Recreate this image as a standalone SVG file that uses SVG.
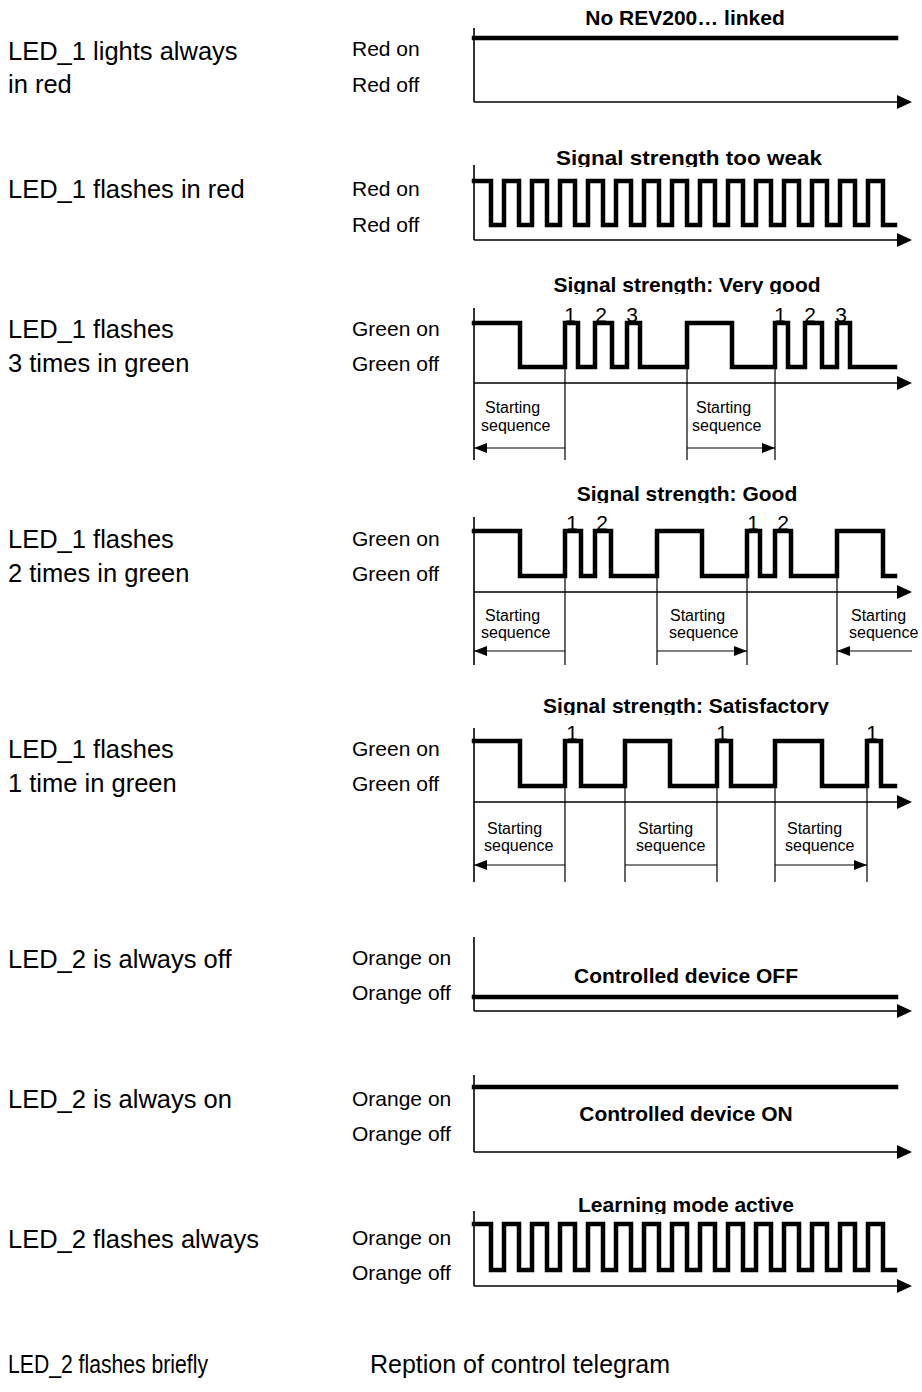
<svg xmlns="http://www.w3.org/2000/svg" width="922" height="1392" viewBox="0 0 922 1392">
<style>
text{font-family:"Liberation Sans",Arial,sans-serif;fill:#000}
.lbl{font-size:25.5px}
.st{font-size:21px}
.ttl{font-size:21px;font-weight:bold;text-anchor:middle}
.dg{font-size:21px;text-anchor:middle}
.ss{font-size:16px}
.wave{fill:none;stroke:#000;stroke-width:4.5;stroke-linejoin:miter;stroke-linecap:square}
.axis{fill:none;stroke:#000;stroke-width:1.6;marker-end:url(#ax)}
.vax{fill:none;stroke:#000;stroke-width:1.6}
.mk{fill:none;stroke:#000;stroke-width:1.2}
.da{fill:none;stroke:#000;stroke-width:1.2;marker-start:url(#ah);marker-end:url(#ah)}
.la{fill:none;stroke:#000;stroke-width:1.2;marker-start:url(#ah)}
</style>
<defs>
<marker id="ax" markerUnits="userSpaceOnUse" markerWidth="16" markerHeight="16" refX="0" refY="7" orient="auto"><path d="M0,0 L15,7 L0,14 Z" fill="#000"/></marker>
<marker id="ah" markerUnits="userSpaceOnUse" markerWidth="14" markerHeight="12" refX="13" refY="5" orient="auto-start-reverse"><path d="M0,0 L13,5 L0,10 Z" fill="#000"/></marker>
<clipPath id="c2"><rect x="400" y="130" width="522" height="37"/></clipPath>
<clipPath id="c3"><rect x="400" y="260" width="522" height="34"/></clipPath>
<clipPath id="c4"><rect x="400" y="470" width="522" height="33"/></clipPath>
<clipPath id="c5"><rect x="400" y="680" width="522" height="35"/></clipPath>
<clipPath id="c8"><rect x="400" y="1180" width="522" height="34"/></clipPath>
</defs>

<g id="row1">
<text class="lbl" x="8" y="60">LED_1 lights always</text>
<text class="lbl" x="8" y="93">in red</text>
<text class="st" x="352" y="56">Red on</text>
<text class="st" x="352" y="92">Red off</text>
<text class="ttl" x="685" y="25">No REV200… linked</text>
<path class="vax" d="M474,28 V102"/>
<path class="axis" d="M474,102 H897"/>
<path class="wave" d="M474,38 H896"/>
</g>

<g id="row2">
<text class="lbl" x="8" y="198">LED_1 flashes in red</text>
<text class="st" x="352" y="196">Red on</text>
<text class="st" x="352" y="232">Red off</text>
<text class="ttl" x="689" y="165" clip-path="url(#c2)" textLength="266" lengthAdjust="spacingAndGlyphs">Signal strength too weak</text>
<path class="vax" d="M474,165 V240"/>
<path class="axis" d="M474,240 H897"/>
<path class="wave" d="M474,181 H491 V225 H504 V181 H519 V225 H532 V181 H547 V225 H560 V181 H575 V225 H588 V181 H603 V225 H616 V181 H631 V225 H644 V181 H659 V225 H672 V181 H687 V225 H700 V181 H715 V225 H728 V181 H743 V225 H756 V181 H771 V225 H784 V181 H799 V225 H812 V181 H827 V225 H840 V181 H855 V225 H868 V181 H883 V225 H895"/>
</g>

<g id="row3">
<text class="lbl" x="8" y="338">LED_1 flashes</text>
<text class="lbl" x="8" y="372">3 times in green</text>
<text class="st" x="352" y="336">Green on</text>
<text class="st" x="352" y="371">Green off</text>
<text class="ttl" x="687" y="292" clip-path="url(#c3)">Signal strength: Very good</text>
<text class="dg" x="570" y="322">1</text>
<text class="dg" x="601" y="322">2</text>
<text class="dg" x="632" y="322">3</text>
<text class="dg" x="780" y="322">1</text>
<text class="dg" x="810" y="322">2</text>
<text class="dg" x="841" y="322">3</text>
<path class="vax" d="M474,308 V460"/>
<path class="axis" d="M474,383 H897"/>
<path class="wave" d="M474,323 H520 V367 H565 V323 H578 V367 H595 V323 H612 V367 H627 V323 H640 V367 H687 V323 H732 V367 H775 V323 H788 V367 H805 V323 H822 V367 H837 V323 H850 V367 H895"/>
<path class="mk" d="M565,367 V460 M687,367 V460 M775,367 V460"/>
<text class="ss" x="485" y="413">Starting</text>
<text class="ss" x="481" y="431">sequence</text>
<text class="ss" x="696" y="413">Starting</text>
<text class="ss" x="692" y="431">sequence</text>
<path class="da" d="M474,448 H565 M687,448 H775"/>
</g>

<g id="row4">
<text class="lbl" x="8" y="548">LED_1 flashes</text>
<text class="lbl" x="8" y="582">2 times in green</text>
<text class="st" x="352" y="546">Green on</text>
<text class="st" x="352" y="581">Green off</text>
<text class="ttl" x="687" y="501" clip-path="url(#c4)">Signal strength: Good</text>
<text class="dg" x="572" y="530">1</text>
<text class="dg" x="602" y="530">2</text>
<text class="dg" x="753" y="530">1</text>
<text class="dg" x="783" y="530">2</text>
<path class="vax" d="M474,517 V665"/>
<path class="axis" d="M474,592 H897"/>
<path class="wave" d="M474,531 H520 V576 H565 V531 H581 V576 H595 V531 H611 V576 H657 V531 H702 V576 H747 V531 H760 V576 H775 V531 H791 V576 H837 V531 H883 V576 H895"/>
<path class="mk" d="M565,576 V665 M657,576 V665 M747,576 V665 M837,576 V665"/>
<text class="ss" x="485" y="621">Starting</text>
<text class="ss" x="481" y="638">sequence</text>
<text class="ss" x="670" y="621">Starting</text>
<text class="ss" x="669" y="638">sequence</text>
<text class="ss" x="851" y="621">Starting</text>
<text class="ss" x="849" y="638">sequence</text>
<path class="da" d="M474,651 H565 M657,651 H747"/>
<path class="la" d="M837,651 H912"/>
</g>

<g id="row5">
<text class="lbl" x="8" y="758">LED_1 flashes</text>
<text class="lbl" x="8" y="792">1 time in green</text>
<text class="st" x="352" y="756">Green on</text>
<text class="st" x="352" y="791">Green off</text>
<text class="ttl" x="686" y="713" clip-path="url(#c5)">Signal strength: Satisfactory</text>
<text class="dg" x="572" y="740">1</text>
<text class="dg" x="722" y="740">1</text>
<text class="dg" x="872" y="740">1</text>
<path class="vax" d="M474,728 V882"/>
<path class="axis" d="M474,802 H897"/>
<path class="wave" d="M474,741 H520 V786 H565 V741 H581 V786 H625 V741 H670 V786 H717 V741 H731 V786 H775 V741 H822 V786 H867 V741 H881 V786 H895"/>
<path class="mk" d="M565,786 V882 M625,786 V882 M717,786 V882 M775,786 V882 M867,786 V882"/>
<text class="ss" x="487" y="834">Starting</text>
<text class="ss" x="484" y="851">sequence</text>
<text class="ss" x="638" y="834">Starting</text>
<text class="ss" x="636" y="851">sequence</text>
<text class="ss" x="787" y="834">Starting</text>
<text class="ss" x="785" y="851">sequence</text>
<path class="da" d="M474,865 H565 M625,865 H717 M775,865 H867"/>
</g>

<g id="row6">
<text class="lbl" x="8" y="968">LED_2 is always off</text>
<text class="st" x="352" y="965">Orange on</text>
<text class="st" x="352" y="1000">Orange off</text>
<text class="ttl" x="686" y="983">Controlled device OFF</text>
<path class="vax" d="M474,937 V1011"/>
<path class="axis" d="M474,1011 H897"/>
<path class="wave" d="M474,997 H896"/>
</g>

<g id="row7">
<text class="lbl" x="8" y="1108">LED_2 is always on</text>
<text class="st" x="352" y="1106">Orange on</text>
<text class="st" x="352" y="1141">Orange off</text>
<text class="ttl" x="686" y="1121">Controlled device ON</text>
<path class="vax" d="M474,1075 V1152"/>
<path class="axis" d="M474,1152 H897"/>
<path class="wave" d="M474,1087 H896"/>
</g>

<g id="row8">
<text class="lbl" x="8" y="1248">LED_2 flashes always</text>
<text class="st" x="352" y="1245">Orange on</text>
<text class="st" x="352" y="1280">Orange off</text>
<text class="ttl" x="686" y="1212" clip-path="url(#c8)">Learning mode active</text>
<path class="vax" d="M474,1211 V1286"/>
<path class="axis" d="M474,1286 H897"/>
<path class="wave" d="M474,1224 H491 V1270 H504 V1224 H519 V1270 H532 V1224 H547 V1270 H560 V1224 H575 V1270 H588 V1224 H603 V1270 H616 V1224 H631 V1270 H644 V1224 H659 V1270 H672 V1224 H687 V1270 H700 V1224 H715 V1270 H728 V1224 H743 V1270 H756 V1224 H771 V1270 H784 V1224 H799 V1270 H812 V1224 H827 V1270 H840 V1224 H855 V1270 H868 V1224 H883 V1270 H895"/>
</g>

<g id="row9">
<text class="lbl" x="8" y="1373" textLength="200" lengthAdjust="spacingAndGlyphs">LED_2 flashes briefly</text>
<text class="lbl" x="370" y="1373" textLength="300" lengthAdjust="spacingAndGlyphs">Reption of control telegram</text>
</g>
</svg>
